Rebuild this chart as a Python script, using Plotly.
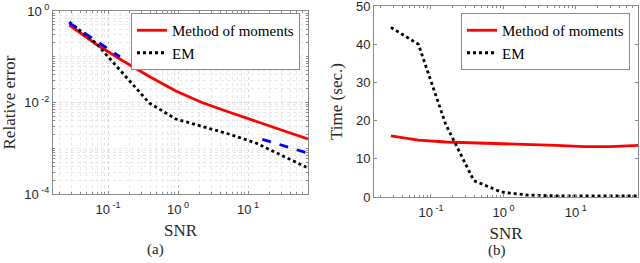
import plotly.graph_objects as go

# ---------------- data ----------------
snr = [0.028, 0.067, 0.16, 0.39, 0.93, 2.2, 5.3, 13, 30, 72]

err_mom = [0.494, 0.190, 0.0828, 0.0370, 0.0178, 0.0100, 0.0062, 0.00394, 0.00251, 0.00159]
err_em = [0.575, 0.200, 0.0448, 0.0097, 0.00436, 0.00306, 0.00205, 0.0013, 0.00071, 0.00037]

ref1_x = [0.028, 0.148]
ref1_y = [0.55, 0.10]
ref2_x = [16, 72]
ref2_y = [0.00157, 0.00078]

time_mom = [16.0, 14.9, 14.4, 14.2, 14.0, 13.8, 13.5, 13.2, 13.2, 13.5]
time_em = [44.4, 40.0, 19.0, 4.3, 1.3, 0.5, 0.3, 0.3, 0.3, 0.3]

x_tickvals = [0.1, 1, 10]
x_ticktext = ["10<sup> -1</sup>", "10<sup> 0</sup>", "10<sup> 1</sup>"]
y_tickvals = [1e-4, 1e-2, 1]
y_ticktext = ["10<sup> -4</sup>", "10<sup> -2</sup>", "10<sup> 0</sup>"]
t_tickvals = [0, 10, 20, 30, 40, 50]

SERIF = "Liberation Serif"
SANS = "Liberation Sans"
AX = "#8a8a8a"
TXT = "#262626"

fig = go.Figure()

fig.add_trace(go.Scatter(x=snr, y=err_mom, mode="lines", name="Method of moments",
                         line=dict(color="#ff0000", width=2.8), xaxis="x", yaxis="y", legend="legend"))
fig.add_trace(go.Scatter(x=snr, y=err_em, mode="lines", name="EM",
                         line=dict(color="#000000", width=2.8, dash="dot"), xaxis="x", yaxis="y", legend="legend"))
fig.add_trace(go.Scatter(x=ref1_x, y=ref1_y, mode="lines", showlegend=False,
                         line=dict(color="#0000ff", width=2.8, dash="dash"), xaxis="x", yaxis="y"))
fig.add_trace(go.Scatter(x=ref2_x, y=ref2_y, mode="lines", showlegend=False,
                         line=dict(color="#0000ff", width=2.8, dash="dash"), xaxis="x", yaxis="y"))

fig.add_trace(go.Scatter(x=snr, y=time_mom, mode="lines", name="Method of moments",
                         line=dict(color="#ff0000", width=2.8), xaxis="x2", yaxis="y2", legend="legend2"))
fig.add_trace(go.Scatter(x=snr, y=time_em, mode="lines", name="EM",
                         line=dict(color="#000000", width=2.8, dash="dot"), xaxis="x2", yaxis="y2", legend="legend2"))

xrange_log = [-1.786, 1.857]

common_axis = dict(showline=True, linecolor=AX, linewidth=1, mirror="ticks", ticks="inside",
                   tickcolor=AX, ticklen=3, tickfont=dict(family=SANS, size=13, color=TXT),
                   zeroline=False, ticklabeloverflow="allow")

legend_common = dict(xanchor="left", yanchor="top", bgcolor="white", bordercolor=AX, borderwidth=1,
                     font=dict(family=SERIF, size=15, color="#000000"), tracegroupgap=0,
                     itemwidth=30)

fig.update_layout(
    width=640, height=263,
    margin=dict(l=0, r=0, t=0, b=0),
    paper_bgcolor="white", plot_bgcolor="white",
    showlegend=True,
    xaxis=dict(domain=[53 / 640, 308 / 640], anchor="y", type="log", range=xrange_log,
               tickvals=x_tickvals, ticktext=x_ticktext, ticklabelstandoff=3,
               showgrid=True, gridcolor="#d9d9d9", griddash="dot", gridwidth=1,
               minor=dict(dtick="D1", showgrid=True, gridcolor="#e8e8e8", griddash="dot",
                          ticks="inside", ticklen=2, tickcolor=AX),
               title=dict(text="SNR", font=dict(family=SERIF, size=17, color=TXT), standoff=8),
               automargin=False, **common_axis),
    yaxis=dict(domain=[(263 - 194) / 263, (263 - 11) / 263], anchor="x", type="log", range=[-4, 0],
               tickvals=y_tickvals, ticktext=y_ticktext,
               showgrid=True, gridcolor="#d9d9d9", griddash="dot", gridwidth=1,
               minor=dict(dtick="D1", showgrid=True, gridcolor="#e8e8e8", griddash="dot",
                          ticks="inside", ticklen=2, tickcolor=AX),
               title=dict(text="Relative error", font=dict(family=SERIF, size=17, color=TXT), standoff=8),
               automargin=False, **common_axis),
    xaxis2=dict(domain=[374 / 640, 638 / 640], anchor="y2", type="log", range=xrange_log,
                tickvals=x_tickvals, ticktext=x_ticktext, ticklabelstandoff=3, showgrid=False,
                minor=dict(dtick="D1", ticks="inside", ticklen=2, tickcolor=AX, showgrid=False),
                title=dict(text="SNR", font=dict(family=SERIF, size=17, color=TXT), standoff=8),
                automargin=False, **common_axis),
    yaxis2=dict(domain=[(263 - 197) / 263, (263 - 6) / 263], anchor="x2", range=[0, 50],
                tickvals=t_tickvals, showgrid=False,
                title=dict(text="Time (sec.)", font=dict(family=SERIF, size=17, color=TXT), standoff=8),
                automargin=False, **common_axis),
    legend=dict(x=131 / 640, y=1 - 13 / 263, **legend_common),
    legend2=dict(x=461 / 640, y=1 - 13 / 263, **legend_common),
    annotations=[
        dict(text="(a)", x=155 / 640, y=1 - 249 / 263, xref="paper", yref="paper",
             xanchor="center", yanchor="middle",
             showarrow=False, font=dict(family=SERIF, size=15, color=TXT)),
        dict(text="(b)", x=497 / 640, y=1 - 250 / 263, xref="paper", yref="paper",
             xanchor="center", yanchor="middle",
             showarrow=False, font=dict(family=SERIF, size=15, color=TXT)),
    ],
)

fig.write_html("out.html", config={"displayModeBar": False},
               post_script="document.body.style.margin='0px';document.body.style.overflow='hidden';")
